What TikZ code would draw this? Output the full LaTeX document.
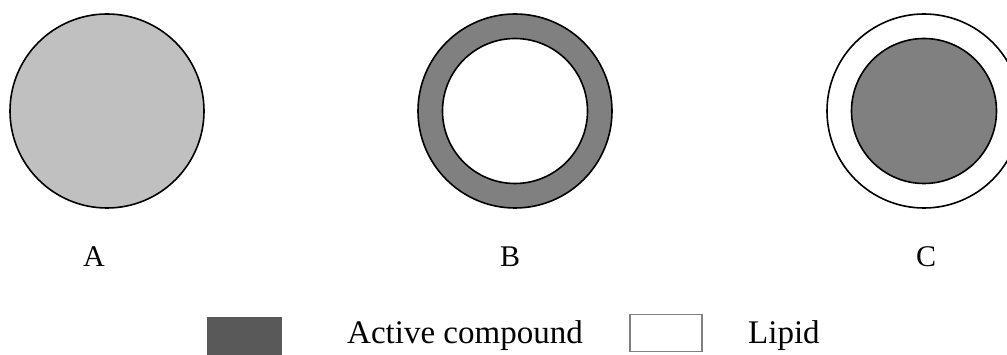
\documentclass[tikz,border=0pt]{standalone}
\usepackage{fontspec}
\setmainfont{Liberation Serif}
\definecolor{lightfill}{HTML}{C0C0C0}
\definecolor{midfill}{HTML}{808080}
\definecolor{darkfill}{HTML}{595959}
\begin{document}
\begin{tikzpicture}[x=1pt,y=-1pt,
  disc/.style={circle, draw=black, line width=1.6pt, inner sep=0pt, minimum size=#1},
  lbl/.style={anchor=base, inner sep=0pt, font=\fontsize{30}{36}\selectfont},
  legtext/.style={anchor=base west, inner sep=0pt, font=\fontsize{33}{40}\selectfont},
  swatch/.style={anchor=north west, inner sep=0pt, minimum width=75pt, minimum height=40pt}]
\useasboundingbox (0,0) rectangle (1007,355);
% A
\node[disc=194pt, fill=lightfill] (A) at (107,111) {};
% B
\node[disc=194pt, fill=midfill] (Bout) at (515,111) {};
\node[disc=145pt, fill=white] (Bin) at (515,111) {};
% C
\node[disc=194pt, fill=white] (Cout) at (924,111) {};
\node[disc=145pt, fill=midfill] (Cin) at (924,111) {};
% labels
\node[lbl] (la) at (94,267) {A};
\node[lbl] (lb) at (510,267) {B};
\node[lbl] (lc) at (926,267) {C};
% legend
\node[swatch, fill=darkfill, minimum height=45pt] (sw1) at (207,317) {};
\node[legtext] (t1) at (347,344) {Active compound};
\node[swatch, draw=midfill, line width=1.5pt, fill=white, minimum width=72pt, minimum height=37pt] (sw2) at (629,314) {};
\node[legtext] (t2) at (748,344) {Lipid};
\end{tikzpicture}
\end{document}
